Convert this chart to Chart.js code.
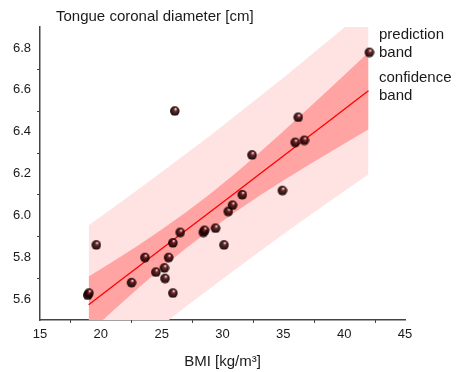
<!DOCTYPE html>
<html>
<head>
<meta charset="utf-8">
<script src="https://cdn.jsdelivr.net/npm/chart.js@4"></script>
<style>
  html, body { margin: 0; padding: 0; background: #fff; }
  #wrap { width: 457px; height: 372px; }
</style>
</head>
<body>
<div id="wrap"><canvas id="chart" width="457" height="372"></canvas></div>
<script>
// measured points (BMI, tongue coronal diameter)
const bmi = [18.9, 19.0, 19.6, 22.5, 23.6, 24.5, 25.2, 25.25, 25.55, 25.9, 25.9, 26.05, 26.5,
  28.4, 28.5, 29.4, 30.1, 30.45, 30.8, 31.6, 32.4, 34.9, 35.95, 36.2, 36.7, 42.05];
const diameter = [5.62, 5.63, 5.86, 5.68, 5.80, 5.73, 5.75, 5.70, 5.80, 5.87, 5.63, 6.50, 5.92,
  5.92, 5.93, 5.94, 5.86, 6.02, 6.05, 6.10, 6.29, 6.12, 6.35, 6.47, 6.36, 6.78];

// fit line and bands
const bandX = [19, 21, 23, 25, 27, 29, 31, 33, 35, 37, 39, 41, 42];
const fitY = [5.573, 5.662, 5.751, 5.840, 5.929, 6.017, 6.106, 6.195, 6.284, 6.373, 6.462, 6.551, 6.595];
const confUpper = [5.708, 5.780, 5.854, 5.932, 6.015, 6.103, 6.198, 6.298, 6.402, 6.508, 6.616, 6.725, 6.779];
const confLower = [5.438, 5.544, 5.648, 5.748, 5.843, 5.931, 6.014, 6.092, 6.166, 6.238, 6.308, 6.377, 6.411];
const predUpper = [5.953, 6.036, 6.121, 6.207, 6.294, 6.382, 6.473, 6.565, 6.658, 6.753, 6.849, 6.946, 6.995];
const predLower = [5.193, 5.288, 5.381, 5.473, 5.564, 5.652, 5.739, 5.825, 5.910, 5.993, 6.075, 6.156, 6.195];

const xTicks = [15, 20, 25, 30, 35, 40, 45];
const xMinor = [17.5, 22.5, 27.5, 32.5, 37.5, 42.5];
const yTicks = [5.6, 5.8, 6.0, 6.2, 6.4, 6.6, 6.8];
const yMinor = [5.7, 5.9, 6.1, 6.3, 6.5, 6.7];

const FONT = "'Liberation Sans', Arial, sans-serif";
const AXIS = '#444';

const pairs = (xs, ys) => xs.map((x, i) => ({ x: x, y: ys[i] }));

// little shaded ball for the markers
function makeBall(r) {
  const c = document.createElement('canvas');
  const s = r * 2 + 2;
  c.width = s; c.height = s;
  const g = c.getContext('2d');
  const cx = s / 2, cy = s / 2;
  const grad = g.createRadialGradient(cx + r * 0.2, cy - r * 0.45, r * 0.08, cx, cy, r);
  grad.addColorStop(0, 'rgba(255,230,230,0.95)');
  grad.addColorStop(0.3, 'rgba(80,5,5,0.85)');
  grad.addColorStop(1, 'rgba(5,0,0,0.95)');
  g.fillStyle = grad;
  g.beginPath();
  g.arc(cx, cy, r, 0, Math.PI * 2);
  g.fill();
  return c;
}
const ball = makeBall(4.8);

const decor = {
  id: 'decor',
  afterDraw(chart) {
    const ctx = chart.ctx;
    const xs = chart.scales.x, ys = chart.scales.y;
    const area = chart.chartArea;
    ctx.save();
    ctx.strokeStyle = AXIS;
    ctx.lineWidth = 1;
    xMinor.forEach(v => {
      const px = Math.round(xs.getPixelForValue(v)) + 0.5;
      ctx.beginPath(); ctx.moveTo(px, area.bottom); ctx.lineTo(px, area.bottom + 3); ctx.stroke();
    });
    yMinor.forEach(v => {
      const py = Math.round(ys.getPixelForValue(v)) + 0.5;
      ctx.beginPath(); ctx.moveTo(area.left, py); ctx.lineTo(area.left - 3, py); ctx.stroke();
    });
    ctx.fillStyle = '#1a1a1a';
    ctx.font = '15px ' + FONT;
    ctx.textBaseline = 'middle';
    ctx.textAlign = 'left';
    ctx.fillText('Tongue coronal diameter [cm]', 56, 17);
    ctx.fillText('prediction', 379, 35);
    ctx.fillText('band', 379, 53);
    ctx.fillText('confidence', 379, 78);
    ctx.fillText('band', 379, 96);
    ctx.restore();
  }
};

new Chart(document.getElementById('chart'), {
  type: 'scatter',
  data: {
    datasets: [
      {
        label: 'data',
        data: pairs(bmi, diameter),
        pointStyle: ball,
        pointRadius: 5,
        order: 0
      },
      {
        label: 'fit',
        type: 'line',
        data: pairs(bandX, fitY),
        borderColor: '#ff0000',
        borderWidth: 1.3,
        pointRadius: 0,
        fill: false,
        order: 1
      },
      {
        label: 'conf upper',
        type: 'line',
        data: pairs(bandX, confUpper),
        borderWidth: 0,
        pointRadius: 0,
        backgroundColor: '#ffa3a3',
        fill: '+1',
        order: 2
      },
      {
        label: 'conf lower',
        type: 'line',
        data: pairs(bandX, confLower),
        borderWidth: 0,
        pointRadius: 0,
        fill: false,
        order: 3
      },
      {
        label: 'pred upper',
        type: 'line',
        data: pairs(bandX, predUpper),
        borderWidth: 0,
        pointRadius: 0,
        backgroundColor: '#ffe3e3',
        fill: '+1',
        order: 4
      },
      {
        label: 'pred lower',
        type: 'line',
        data: pairs(bandX, predLower),
        borderWidth: 0,
        pointRadius: 0,
        fill: false,
        order: 5
      }
    ]
  },
  options: {
    responsive: false,
    animation: false,
    events: [],
    layout: { padding: { left: 0, top: 27, right: 52, bottom: 0 } },
    plugins: {
      legend: { display: false },
      tooltip: { enabled: false }
    },
    scales: {
      x: {
        type: 'linear',
        min: 15, max: 45,
        afterBuildTicks: s => { s.ticks = xTicks.map(v => ({ value: v })); },
        afterFit: s => { s.height = 52; },
        grid: { display: false, drawTicks: true, tickLength: 5, tickColor: AXIS, tickWidth: 1 },
        border: { display: true, color: AXIS, width: 1.5 },
        ticks: { color: '#1a1a1a', font: { family: FONT, size: 13 }, padding: 2, maxRotation: 0 },
        title: {
          display: true,
          text: 'BMI [kg/m³]',
          color: '#1a1a1a',
          font: { family: FONT, size: 15 },
          padding: { top: 0, bottom: 1 }
        }
      },
      y: {
        type: 'linear',
        min: 5.5, max: 6.9,
        afterBuildTicks: s => { s.ticks = yTicks.map(v => ({ value: v })); },
        afterFit: s => { s.width = 40; },
        grid: { display: false, drawTicks: true, tickLength: 5, tickColor: AXIS, tickWidth: 1 },
        border: { display: true, color: AXIS, width: 1.5 },
        ticks: {
          color: '#1a1a1a',
          font: { family: FONT, size: 13 },
          padding: 4,
          callback: v => v.toFixed(1)
        }
      }
    }
  },
  plugins: [decor]
});
</script>
</body>
</html>
